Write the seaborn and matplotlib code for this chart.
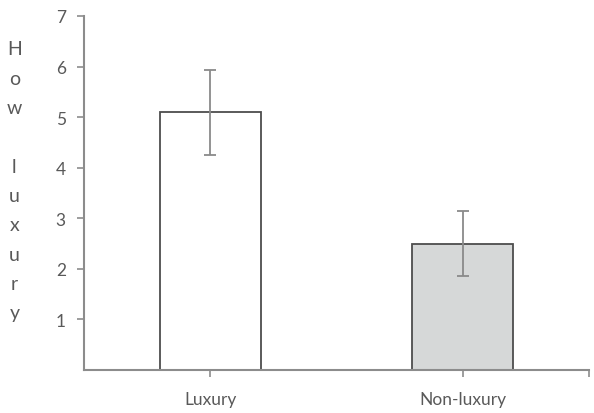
import matplotlib
matplotlib.use("Agg")
import matplotlib.pyplot as plt
import pandas as pd
import seaborn as sns

categories = ["Luxury", "Non-luxury"]
means = [5.1, 2.5]
errors = [0.84, 0.64]
ylabel_text = "H\no\nw\n\nl\nu\nx\nu\nr\ny"

sns.set_style("white")
plt.rcParams['font.family'] = ['Lato', 'DejaVu Sans']

df = pd.DataFrame({"category": categories, "mean": means})

fig = plt.figure(figsize=(5.94, 4.14), dpi=100)
ax = fig.add_axes([0.1414, 0.104, 0.85, 0.855])

sns.barplot(data=df, x="category", y="mean", hue="category",
            palette=["white", "#d6d8d8"], width=0.4, errorbar=None,
            edgecolor="#4d4d4d", linewidth=1.3, legend=False, ax=ax)
ax.errorbar(range(len(categories)), means, yerr=errors, fmt="none",
            ecolor="#8a8a8a", elinewidth=1.3, capsize=4, capthick=1.3)

ax.set_xlim(-0.5, 1.5)
ax.set_ylim(0, 7)
ax.set_yticks(range(1, 8))
ax.set_xlabel("")
ax.set_ylabel("")
ax.text(-0.138, 0.534, ylabel_text, transform=ax.transAxes, ha="center",
        va="center", fontsize=14, color="#595959", linespacing=1.88)

sns.despine(ax=ax)
for side in ["left", "bottom"]:
    ax.spines[side].set_color("#8c8c8c")
    ax.spines[side].set_linewidth(1.5)
ax.tick_params(axis="both", direction="out", length=5, width=1.2,
               bottom=True, left=True,
               color="#8c8c8c", labelcolor="#595959", labelsize=12.5)
ax.tick_params(axis="x", pad=10)
ax.tick_params(axis="y", pad=8)
ax.set_xticks([1.5], minor=True)
ax.tick_params(axis="x", which="minor", direction="out", length=5,
               width=1.2, bottom=True, color="#8c8c8c")

fig.savefig("out.png", dpi=100)
